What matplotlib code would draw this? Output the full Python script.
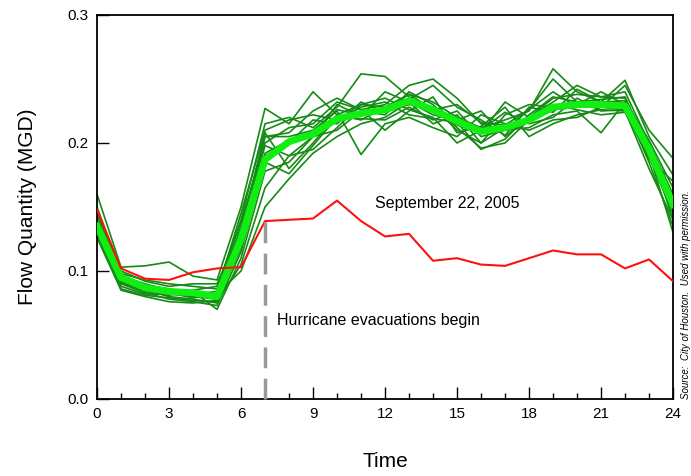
import matplotlib
matplotlib.use("Agg")
import matplotlib.pyplot as plt
from matplotlib.ticker import MultipleLocator

plt.rcParams['font.family'] = ['Liberation Sans', 'DejaVu Sans']

hours = list(range(25))

# Individual days (dark green)
days = [
    [0.160,0.103,0.104,0.107,0.096,0.093,0.150,0.227,0.215,0.240,0.222,0.230,0.228,0.238,0.232,0.220,0.212,0.218,0.225,0.258,0.240,0.232,0.249,0.205,0.175],
    [0.150,0.098,0.093,0.090,0.088,0.086,0.140,0.215,0.220,0.212,0.228,0.254,0.252,0.236,0.225,0.214,0.208,0.232,0.220,0.235,0.238,0.236,0.240,0.200,0.160],
    [0.145,0.096,0.090,0.085,0.083,0.081,0.135,0.205,0.208,0.225,0.235,0.226,0.230,0.245,0.250,0.235,0.215,0.210,0.226,0.250,0.232,0.228,0.245,0.210,0.188],
    [0.140,0.094,0.088,0.082,0.080,0.078,0.128,0.198,0.190,0.205,0.230,0.221,0.240,0.232,0.222,0.218,0.225,0.205,0.220,0.232,0.245,0.236,0.235,0.195,0.150],
    [0.138,0.092,0.085,0.080,0.078,0.075,0.120,0.190,0.200,0.218,0.215,0.232,0.224,0.230,0.228,0.210,0.200,0.222,0.230,0.228,0.230,0.240,0.230,0.198,0.140],
    [0.135,0.090,0.083,0.078,0.076,0.073,0.115,0.185,0.176,0.198,0.220,0.219,0.218,0.228,0.218,0.225,0.205,0.210,0.212,0.222,0.225,0.208,0.232,0.190,0.145],
    [0.132,0.088,0.082,0.082,0.084,0.070,0.110,0.178,0.185,0.205,0.210,0.225,0.222,0.240,0.230,0.212,0.196,0.200,0.218,0.226,0.228,0.230,0.228,0.185,0.135],
    [0.130,0.090,0.086,0.084,0.081,0.080,0.125,0.205,0.205,0.210,0.225,0.191,0.215,0.220,0.212,0.205,0.222,0.215,0.210,0.218,0.220,0.228,0.226,0.192,0.130],
    [0.128,0.086,0.081,0.079,0.077,0.076,0.105,0.165,0.190,0.195,0.212,0.230,0.235,0.226,0.220,0.200,0.210,0.224,0.215,0.220,0.235,0.225,0.226,0.188,0.155],
    [0.142,0.100,0.092,0.088,0.090,0.090,0.132,0.208,0.180,0.200,0.222,0.218,0.228,0.234,0.245,0.228,0.218,0.206,0.228,0.224,0.242,0.232,0.233,0.202,0.165],
    [0.137,0.093,0.087,0.083,0.079,0.082,0.100,0.150,0.172,0.192,0.205,0.215,0.220,0.232,0.215,0.222,0.200,0.212,0.218,0.230,0.226,0.222,0.224,0.190,0.145],
    [0.133,0.091,0.084,0.081,0.085,0.088,0.138,0.200,0.212,0.215,0.232,0.226,0.210,0.225,0.236,0.208,0.213,0.228,0.205,0.215,0.222,0.226,0.225,0.180,0.140],
    [0.146,0.097,0.089,0.086,0.082,0.084,0.145,0.210,0.218,0.222,0.218,0.228,0.232,0.222,0.219,0.216,0.195,0.203,0.222,0.236,0.232,0.234,0.236,0.196,0.150],
    [0.126,0.085,0.080,0.076,0.075,0.077,0.118,0.192,0.202,0.208,0.226,0.222,0.226,0.238,0.226,0.230,0.216,0.214,0.226,0.240,0.228,0.232,0.231,0.188,0.170],
]

# Average day (bright green)
average = [0.135,0.095,0.087,0.084,0.083,0.080,0.125,0.187,0.201,0.207,0.219,0.223,0.226,0.233,0.226,0.217,0.209,0.212,0.218,0.228,0.230,0.230,0.229,0.195,0.152]

# September 22, 2005 (red)
sept22 = [0.148,0.102,0.094,0.093,0.099,0.102,0.103,0.139,0.140,0.141,0.155,0.139,0.127,0.129,0.108,0.110,0.105,0.104,0.110,0.116,0.113,0.113,0.102,0.109,0.092]

evac_hour = 7
x_ticks = [0, 3, 6, 9, 12, 15, 18, 21, 24]
y_ticks = [0.0, 0.1, 0.2, 0.3]
y_ticklabels = ['0.0', '0.1', '0.2', '0.3']

fig = plt.figure(figsize=(6.91, 4.76), dpi=100)
ax = fig.add_axes([0.1404, 0.1618, 0.8336, 0.8067])

for d in days:
    ax.plot(hours, d, color='#158a15', lw=1.2, zorder=2)
ax.plot(hours, average, color='#11ee11', lw=5, solid_joinstyle='round', zorder=3)
ax.plot(hours, sept22, color='#ff1010', lw=1.5, zorder=4)

ax.plot([evac_hour, evac_hour], [0, sept22[evac_hour]], color='#999999', lw=2.5,
        dashes=(6, 3), zorder=5, clip_on=False)

ax.set_xlim(0, 24)
ax.set_ylim(0, 0.3)
ax.set_xticks(x_ticks)
ax.xaxis.set_minor_locator(MultipleLocator(1))
ax.set_yticks(y_ticks)
ax.set_yticklabels(y_ticklabels)
ax.tick_params(axis='both', which='major', direction='in', length=8.6, width=1.0,
               labelsize=11, top=False, right=False, pad=6)
ax.tick_params(axis='x', which='minor', direction='in', length=4.3, width=1.0, top=False)
for s in ax.spines.values():
    s.set_linewidth(1.3)

ax.set_xlabel('Time', fontsize=15, labelpad=22)
ax.set_ylabel('Flow Quantity (MGD)', fontsize=15, labelpad=22)

ax.text(11.6, 0.153, 'September 22, 2005', fontsize=11.5, ha='left', va='center')
ax.text(7.5, 0.061, 'Hurricane evacuations begin', fontsize=11.5, ha='left', va='center')

fig.text(0.993, 0.1618, 'Source:  City of Houston.  Used with permission.', rotation=90,
         fontsize=7, style='italic', ha='center', va='bottom')

fig.savefig('out.png', dpi=100)
